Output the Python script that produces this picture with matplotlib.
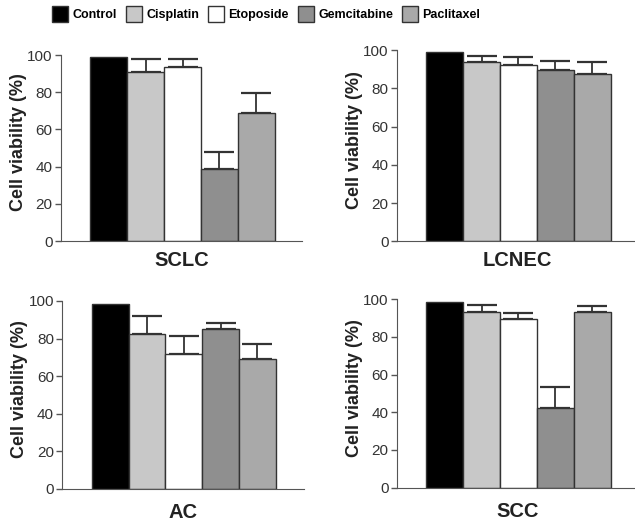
import numpy as np
import matplotlib
matplotlib.use("Agg")
import matplotlib.pyplot as plt
from matplotlib.patches import Patch

plt.rcParams['font.family'] = ['Liberation Sans', 'DejaVu Sans']

drugs = ["Control", "Cisplatin", "Etoposide", "Gemcitabine", "Paclitaxel"]
colors = ["#000000", "#c8c8c8", "#ffffff", "#8f8f8f", "#a9a9a9"]

panels = ["SCLC", "LCNEC", "AC", "SCC"]
# mean viability (%) per drug, in panel order
sclc_mean = [99, 90.7, 93.4, 38.7, 68.6]
lcnec_mean = [99, 93.6, 92.3, 89.4, 87.5]
ac_mean = [98.2, 82.3, 71.5, 85.0, 69.0]
scc_mean = [98.4, 93.1, 89.6, 42.5, 93.1]
# upper error (SD)
sclc_err = [0, 7.0, 4.6, 9.1, 11.1]
lcnec_err = [0, 3.4, 4.2, 4.9, 6.2]
ac_err = [0, 9.7, 9.9, 3.1, 8.3]
scc_err = [0, 3.7, 3.1, 10.8, 3.2]

means = [sclc_mean, lcnec_mean, ac_mean, scc_mean]
errs = [sclc_err, lcnec_err, ac_err, scc_err]

# axes rectangles [left, bottom, width, height] in figure fractions
rects = [
    [0.096, 0.540, 0.380, 0.355],
    [0.625, 0.5395, 0.380, 0.365],
    [0.098, 0.0668, 0.380, 0.359],
    [0.625, 0.0693, 0.380, 0.360],
]
xpads = [7, 7, 10, 10]

fig = plt.figure(figsize=(6.35, 5.24), dpi=100)

for name, m, e, r, xp in zip(panels, means, errs, rects, xpads):
    ax = fig.add_axes(r)
    x = np.arange(len(drugs))
    ax.bar(x, m, width=1.0, color=colors, edgecolor="#333333", linewidth=1.0, zorder=2)
    ax.errorbar(x[1:], m[1:], yerr=[np.zeros(len(x) - 1), e[1:]], fmt="none",
                ecolor="#333333", elinewidth=1.3, capsize=10.5, capthick=1.6, zorder=1)
    ax.set_xlim(-1.3, 5.25)
    ax.set_ylim(0, 100)
    ax.set_yticks([0, 20, 40, 60, 80, 100])
    ax.set_xticks([])
    ax.spines["top"].set_visible(False)
    ax.spines["right"].set_visible(False)
    ax.spines["left"].set_color("#555555")
    ax.spines["bottom"].set_color("#555555")
    ax.tick_params(axis="y", direction="out", length=4, width=1, color="#555555",
                   labelsize=11, labelcolor="#333333", pad=2)
    ax.set_ylabel("Cell viability (%)", fontsize=13, fontweight="bold", color="#222222")
    ax.yaxis.set_label_coords(-0.14, 0.53)
    ax.set_xlabel(name, fontsize=14.5, fontweight="bold", color="#222222", labelpad=xp)

handles = [Patch(facecolor=c, edgecolor="#333333", linewidth=1.0) for c in colors]
fig.legend(handles, drugs, loc="upper center", bbox_to_anchor=(0.419, 1.01), ncol=5,
           frameon=False, prop={"weight": "bold", "size": 9}, handlelength=1.3,
           handleheight=1.65, handletextpad=0.35, columnspacing=0.7)

fig.savefig("out.png", dpi=100, facecolor="white")
